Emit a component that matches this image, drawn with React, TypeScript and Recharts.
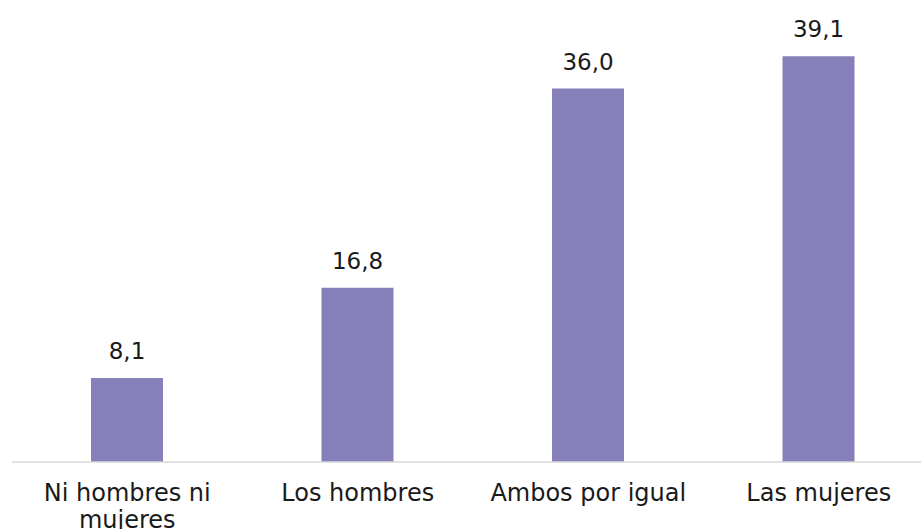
import { Bar, BarChart, LabelList, XAxis, YAxis } from 'recharts'

const CATEGORIES = ['Ni hombres ni mujeres', 'Los hombres', 'Ambos por igual', 'Las mujeres']
// tick labels as they wrap under the axis
const TICK_LINES = [['Ni hombres ni', 'mujeres'], ['Los hombres'], ['Ambos por igual'], ['Las mujeres']]
const VALUES = [8.1, 16.8, 36.0, 39.1]

const rows = CATEGORIES.map((name, i) => ({ name, value: VALUES[i] }))

const FONT = '"DejaVu Sans", sans-serif'
const INK = '#1a1a1a'

function formatValue(v: number): string {
  return v.toFixed(1).replace('.', ',')
}

interface TickProps {
  x?: number
  y?: number
  index?: number
  payload?: { value: string; index?: number }
}

function CategoryTick({ x = 0, y = 0, payload, index }: TickProps) {
  const i = index ?? CATEGORIES.indexOf(payload?.value ?? '')
  const lines = TICK_LINES[i] ?? [payload?.value ?? '']
  return (
    <text
      x={x}
      y={y + 31}
      textAnchor="middle"
      fontFamily={FONT}
      fontSize={24}
      fill={INK}
    >
      {lines.map((line, k) => (
        <tspan key={line} x={x} dy={k === 0 ? 0 : 27}>
          {line}
        </tspan>
      ))}
    </text>
  )
}

export default function App() {
  return (
    <div
      style={{
        position: 'fixed',
        left: 0,
        top: 0,
        width: 921,
        height: 529,
        overflow: 'hidden',
        background: '#ffffff',
      }}
    >
      <BarChart
        width={946}
        height={529}
        data={rows}
        margin={{ top: 47, right: 12, left: 12, bottom: 0 }}
      >
        <XAxis
          dataKey="name"
          height={67}
          interval={0}
          tickLine={false}
          axisLine={{ stroke: '#d9d9d9', strokeWidth: 1.5 }}
          tick={<CategoryTick />}
        />
        <YAxis hide domain={[0, 40]} />
        <Bar dataKey="value" fill="#857fba" barSize={72} isAnimationActive={false}>
          <LabelList
            dataKey="value"
            position="top"
            offset={19}
            formatter={(v: number) => formatValue(v)}
            style={{ fontFamily: FONT, fontSize: 23, fill: INK }}
          />
        </Bar>
      </BarChart>
    </div>
  )
}
